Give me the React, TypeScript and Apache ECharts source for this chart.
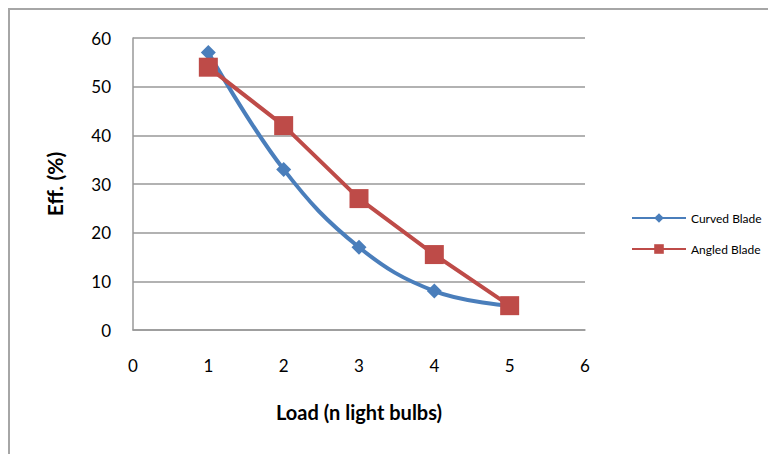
import React, { useEffect, useRef } from "react";
import * as echarts from "echarts";

const loads = [1, 2, 3, 4, 5];
const curvedBlade = [57, 33, 17, 8, 5];
const angledBlade = [54, 42, 27, 15.5, 5];
const seriesNames = ["Curved Blade", "Angled Blade"];
const xAxisTitle = "Load (n light bulbs)";
const yAxisTitle = "Eff. (%)";

const FONT = "Lato, 'Open Sans', sans-serif";

export default function App() {
  const ref = useRef<HTMLDivElement>(null);
  useEffect(() => {
    if (!ref.current) return;
    const chart = echarts.init(ref.current, undefined, { renderer: "svg" });
    chart.setOption({
      animation: false,
      backgroundColor: "#ffffff",
      graphic: [
        {
          type: "rect",
          shape: { x: 1, y: 1, width: 900, height: 600 },
          style: { fill: "none", stroke: "#a6a6a6", lineWidth: 2 },
          silent: true,
        },
      ],
      grid: { left: 125, right: 191, top: 30, bottom: 124 },
      legend: {
        orient: "vertical",
        left: 618,
        top: 199,
        itemWidth: 54,
        itemHeight: 12,
        itemGap: 19,
        textStyle: { fontFamily: FONT, fontSize: 12, color: "#000" },
        data: seriesNames,
      },
      xAxis: {
        type: "value",
        min: 0,
        max: 6,
        interval: 1,
        name: xAxisTitle,
        nameLocation: "middle",
        nameGap: 72,
        nameMoveOverlap: false,
        nameTextStyle: { fontFamily: FONT, fontSize: 20, fontWeight: "bold", color: "#000" },
        axisLine: { show: true, lineStyle: { color: "#999", width: 1.5 } },
        axisTick: { show: false },
        splitLine: { show: false },
        axisLabel: { fontFamily: FONT, fontSize: 17, color: "#000", margin: 27 },
      },
      yAxis: {
        type: "value",
        min: 0,
        max: 60,
        interval: 10,
        name: yAxisTitle,
        nameLocation: "middle",
        nameGap: 68,
        nameMoveOverlap: false,
        nameTextStyle: { fontFamily: FONT, fontSize: 21, fontWeight: "bold", color: "#000" },
        axisLine: { show: true, lineStyle: { color: "#999", width: 1.5 } },
        axisTick: { show: false },
        splitLine: { show: true, lineStyle: { color: "#999", width: 1.5 } },
        axisLabel: { fontFamily: FONT, fontSize: 17, color: "#000", margin: 22 },
      },
      series: [
        {
          name: seriesNames[0],
          type: "line",
          smooth: 0.4,
          data: loads.map((x, i) => [x, curvedBlade[i]]),
          symbol: "diamond",
          symbolSize: 15,
          lineStyle: { color: "#4a7ebb", width: 4 },
          itemStyle: { color: "#4a7ebb" },
          z: 2,
        },
        {
          name: seriesNames[1],
          type: "line",
          data: loads.map((x, i) => [x, angledBlade[i]]),
          symbol: "rect",
          symbolSize: 19,
          lineStyle: { color: "#be4b48", width: 4 },
          itemStyle: { color: "#be4b48" },
          z: 3,
        },
      ],
    });
    return () => chart.dispose();
  }, []);
  return <div ref={ref} style={{ width: 768, height: 446 }} />;
}
